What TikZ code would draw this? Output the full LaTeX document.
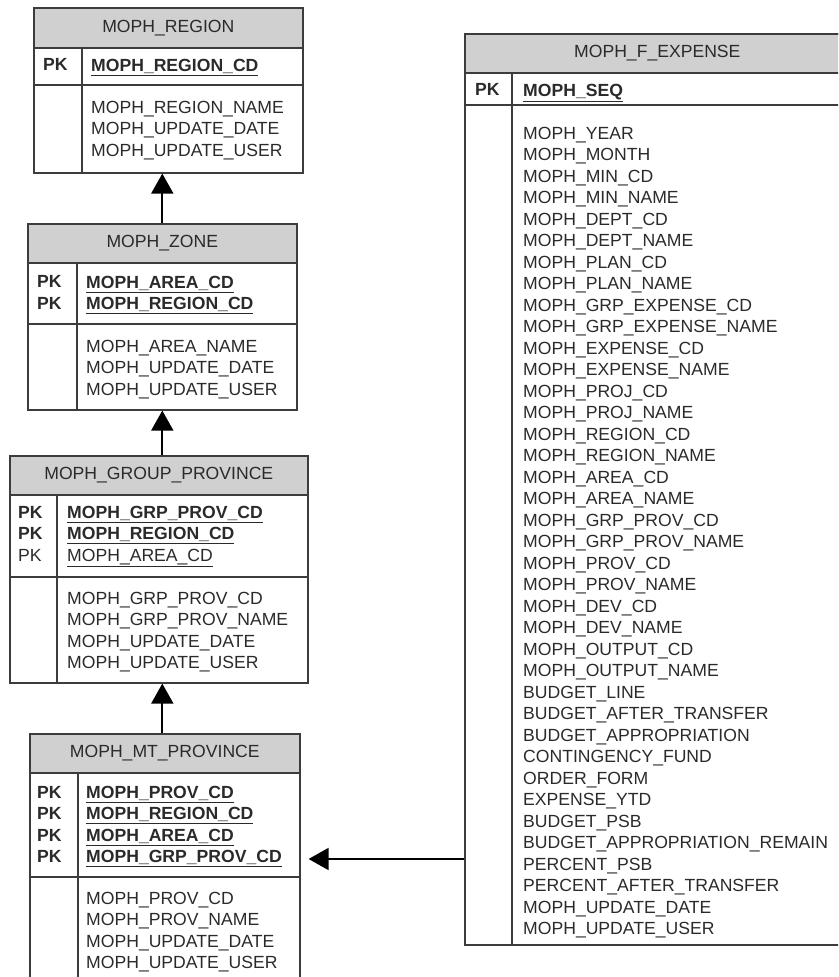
\documentclass[tikz,border=0pt]{standalone}
\usepackage{fontspec}
\setmainfont{Liberation Sans}
\usetikzlibrary{arrows.meta}
\definecolor{hdrgray}{HTML}{D0D0D0}
\definecolor{linegray}{HTML}{3C3C3C}
\definecolor{txtgray}{HTML}{2A2A2A}
\tikzset{
  tfont/.style={font=\fontsize{17.6pt}{21.5pt}\selectfont, text=txtgray},
  tframe/.style={draw=linegray, line width=1.6pt, anchor=north west, inner sep=0pt},
  thead/.style={tframe, fill=hdrgray, tfont},
  tcol/.style={tfont, anchor=north west, inner sep=0pt, align=left},
  tline/.style={draw=linegray, line width=1.4pt},
  rel/.style={-{Triangle[length=20pt, width=22pt]}, line width=1.8pt, draw=black},
}
\newcommand{\pkey}[1]{\underline{\textbf{#1}}}

\begin{document}
\begin{tikzpicture}[x=1pt, y=1pt]
    \useasboundingbox (0,0) rectangle (838,977);
    \clip (0,0) rectangle (838,977);
    % MOPH_REGION
    \node[thead, minimum width=269pt, minimum height=40pt] (regionhead) at (33,970) {MOPH\_REGION};
    \node[tframe, minimum width=269pt, minimum height=165pt] (region) at (33,970) {};
    \draw[tline] (33,892) -- (302,892);
    \draw[tline] (82,930) -- (82,805);
    \node[tcol] (regionpk) at (43,918.3) {\textbf{PK}};
    \node[tcol] (regionkeys) at (91,918.3) {\pkey{MOPH\_REGION\_CD}};
    \node[tcol] (regionattrs) at (91,876.3) {MOPH\_REGION\_NAME\\MOPH\_UPDATE\_DATE\\MOPH\_UPDATE\_USER};
    % MOPH_ZONE
    \node[thead, minimum width=269pt, minimum height=39pt] (zonehead) at (27,754) {MOPH\_ZONE};
    \node[tframe, minimum width=269pt, minimum height=186pt] (zone) at (27,754) {};
    \draw[tline] (27,653) -- (296,653);
    \draw[tline] (77,715) -- (77,568);
    \node[tcol] (zonepk) at (37,701.3) {\textbf{PK}\\\textbf{PK}};
    \node[tcol] (zonekeys) at (86,701.3) {\pkey{MOPH\_AREA\_CD}\\\pkey{MOPH\_REGION\_CD}};
    \node[tcol] (zoneattrs) at (86,637.3) {MOPH\_AREA\_NAME\\MOPH\_UPDATE\_DATE\\MOPH\_UPDATE\_USER};
    % MOPH_GROUP_PROVINCE
    \node[thead, minimum width=298pt, minimum height=39pt] (grouphead) at (9,522) {MOPH\_GROUP\_PROVINCE};
    \node[tframe, minimum width=298pt, minimum height=227pt] (group) at (9,522) {};
    \draw[tline] (9,400) -- (307,400);
    \draw[tline] (57,483) -- (57,295);
    \node[tcol] (grouppk) at (18,471.3) {\textbf{PK}\\\textbf{PK}\\PK};
    \node[tcol] (groupkeys) at (67,471.3) {\pkey{MOPH\_GRP\_PROV\_CD}\\\pkey{MOPH\_REGION\_CD}\\\underline{MOPH\_AREA\_CD}};
    \node[tcol] (groupattrs) at (67,385.3) {MOPH\_GRP\_PROV\_CD\\MOPH\_GRP\_PROV\_NAME\\MOPH\_UPDATE\_DATE\\MOPH\_UPDATE\_USER};
    % MOPH_MT_PROVINCE
    \node[thead, minimum width=270pt, minimum height=39pt] (mthead) at (29,244) {MOPH\_MT\_PROVINCE};
    \node[tframe, minimum width=270pt, minimum height=264pt] (mt) at (29,244) {};
    \draw[tline] (29,100) -- (299,100);
    \draw[tline] (78,205) -- (78,-20);
    \node[tcol] (mtpk) at (37,191.3) {\textbf{PK}\\\textbf{PK}\\\textbf{PK}\\\textbf{PK}};
    \node[tcol] (mtkeys) at (86,191.3) {\pkey{MOPH\_PROV\_CD}\\\pkey{MOPH\_REGION\_CD}\\\pkey{MOPH\_AREA\_CD}\\\pkey{MOPH\_GRP\_PROV\_CD}};
    \node[tcol] (mtattrs) at (86,85.3) {MOPH\_PROV\_CD\\MOPH\_PROV\_NAME\\MOPH\_UPDATE\_DATE\\MOPH\_UPDATE\_USER};
    % MOPH_F_EXPENSE
    \node[thead, minimum width=385pt, minimum height=39pt] (fexphead) at (464,944) {MOPH\_F\_EXPENSE};
    \node[tframe, minimum width=385pt, minimum height=911pt] (fexp) at (464,944) {};
    \draw[tline] (464,872) -- (849,872);
    \draw[tline] (512,905) -- (512,33);
    \node[tcol] (fexppk) at (475,893.3) {\textbf{PK}};
    \node[tcol] (fexpkeys) at (523,893.3) {\pkey{MOPH\_SEQ}};
    \node[tcol] (fexpattrs) at (523,850.3) {MOPH\_YEAR\\MOPH\_MONTH\\MOPH\_MIN\_CD\\MOPH\_MIN\_NAME\\MOPH\_DEPT\_CD\\MOPH\_DEPT\_NAME\\MOPH\_PLAN\_CD\\MOPH\_PLAN\_NAME\\MOPH\_GRP\_EXPENSE\_CD\\MOPH\_GRP\_EXPENSE\_NAME\\MOPH\_EXPENSE\_CD\\MOPH\_EXPENSE\_NAME\\MOPH\_PROJ\_CD\\MOPH\_PROJ\_NAME\\MOPH\_REGION\_CD\\MOPH\_REGION\_NAME\\MOPH\_AREA\_CD\\MOPH\_AREA\_NAME\\MOPH\_GRP\_PROV\_CD\\MOPH\_GRP\_PROV\_NAME\\MOPH\_PROV\_CD\\MOPH\_PROV\_NAME\\MOPH\_DEV\_CD\\MOPH\_DEV\_NAME\\MOPH\_OUTPUT\_CD\\MOPH\_OUTPUT\_NAME\\BUDGET\_LINE\\BUDGET\_AFTER\_TRANSFER\\BUDGET\_APPROPRIATION\\CONTINGENCY\_FUND\\ORDER\_FORM\\EXPENSE\_YTD\\BUDGET\_PSB\\BUDGET\_APPROPRIATION\_REMAIN\\PERCENT\_PSB\\PERCENT\_AFTER\_TRANSFER\\MOPH\_UPDATE\_DATE\\MOPH\_UPDATE\_USER};
    % relations
    \coordinate (fk) at (464,118);
    \draw[rel] (zone.north) -- (zone.north |- region.south);
    \draw[rel] (zone.north |- group.north) -- (zone.south);
    \draw[rel] (zone.north |- mt.north) -- (zone.north |- group.south);
    \draw[rel, shorten >=8pt] (fk) -- (fk -| mt.east);
\end{tikzpicture}
\end{document}
